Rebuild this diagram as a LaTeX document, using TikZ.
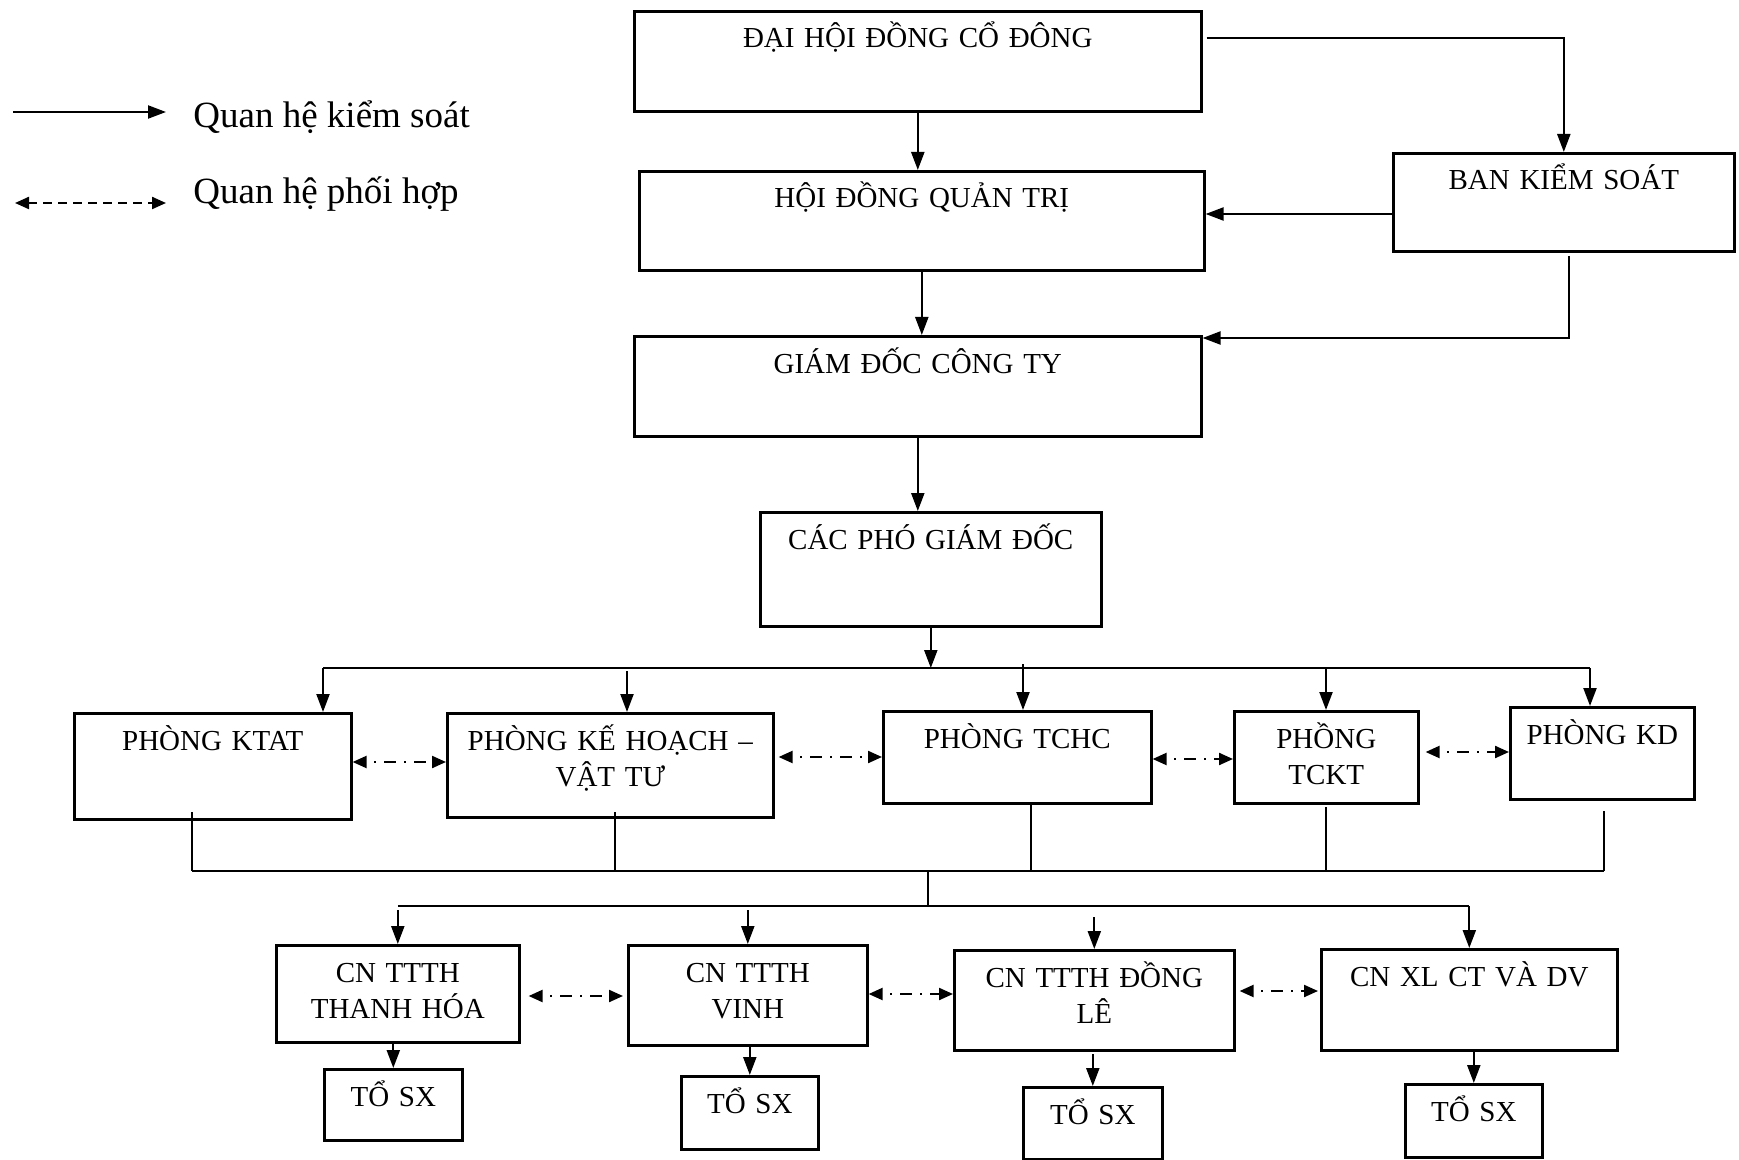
\documentclass[tikz,border=0pt]{standalone}
\usepackage{fontspec}
\setmainfont{Liberation Serif}
\usetikzlibrary{arrows.meta}
\newcommand{\boxfont}{\fontsize{14.5}{18}\selectfont}
\newcommand{\legfont}{\fontsize{18.5}{22}\selectfont}
\newcommand{\bx}[6]{\node[box, minimum width={(#4-#2)*0.5pt}, minimum height={(#5-#3)*0.5pt}, anchor=north west, label={[lbl]north:{#6}}] (#1) at (#2,#3) {};}
\begin{document}
\begin{tikzpicture}[x=0.5pt,y=-0.5pt,
  box/.style={draw, line width=1.3pt, inner sep=0pt},
  lbl/.style={anchor=base, inner sep=0pt, align=center, text width=250pt, font=\boxfont, yshift=-19pt},
  ctl/.style={line width=1.1pt, -{Triangle[length=9pt,width=6.5pt]}},
  cline/.style={line width=1.2pt},
  tline/.style={line width=0.8pt},
  coordarrow/.style={line width=1.1pt, {Triangle[length=7pt,width=6pt]}-{Triangle[length=7pt,width=6pt]}, dash pattern=on 1pt off 4pt on 6pt off 4pt, dash phase=-4pt},
  legdash/.style={line width=1.1pt, {Triangle[length=7pt,width=6pt]}-{Triangle[length=7pt,width=6pt]}, dash pattern=on 4.5pt off 3pt},
  leg/.style={inner sep=0pt, font=\legfont, anchor=base west}]
\useasboundingbox (0,0) rectangle (1739,1160);

% boxes
\bx{dh}{633}{10}{1200}{110}{ĐẠI HỘI ĐỒNG CỔ ĐÔNG}
\bx{hd}{638}{170}{1203}{269}{HỘI ĐỒNG QUẢN TRỊ}
\bx{bks}{1392}{152}{1733}{250}{BAN KIỂM SOÁT}
\bx{gd}{633}{335}{1200}{435}{GIÁM ĐỐC CÔNG TY}
\bx{pgd}{759}{511}{1100}{625}{CÁC PHÓ GIÁM ĐỐC}
\bx{ktat}{73}{712}{350}{818}{PHÒNG KTAT}
\bx{khvt}{446}{712}{772}{816}{PHÒNG KẾ HOẠCH –\\VẬT TƯ}
\bx{tchc}{882}{710}{1150}{802}{PHÒNG TCHC}
\bx{tckt}{1233}{710}{1417}{802}{PHỒNG\\TCKT}
\bx{kd}{1509}{706}{1693}{798}{PHÒNG KD}
\bx{cn1}{275}{944}{518}{1041}{CN TTTH\\THANH HÓA}
\bx{cn2}{627}{944}{866}{1044}{CN TTTH\\VINH}
\bx{cn3}{953}{949}{1233}{1049}{CN TTTH ĐỒNG\\LÊ}
\bx{cn4}{1320}{948}{1616}{1049}{CN XL CT VÀ DV}
\bx{to1}{323}{1068}{461}{1139}{TỔ SX}
\bx{to2}{680}{1075}{817}{1148}{TỔ SX}
\bx{to3}{1022}{1086}{1161}{1158}{TỔ SX}
\bx{to4}{1404}{1083}{1541}{1156}{TỔ SX}

% legend
\coordinate (la) at (13,112);
\coordinate (lb) at (166,112);
\draw[ctl] (la) -- (lb);
\node[leg] (lg1) at (193,128) {Quan hệ kiểm soát};
\coordinate (lc) at (15,203);
\coordinate (ld) at (166,203);
\draw[legdash] (lc) -- (ld);
\node[leg] (lg2) at (193,204) {Quan hệ phối hợp};

% top part
\draw[ctl] (dh.south) -- (dh.south |- hd.north);
\coordinate (c1) at ([xshift=2pt,yshift=-14pt]dh.north east);
\draw[ctl] (c1) -| (bks.north);
\coordinate (c2) at ([yshift=-31pt]bks.north west);
\draw[ctl] (c2) -- (c2 -| hd.east);
\coordinate (c3) at (1569,256);
\coordinate (c4) at (1569,338);
\draw[ctl] (c3) -- (c4) -- (c4 -| gd.east);
\draw[ctl] (hd.south) -- (hd.south |- gd.north);
\draw[ctl] (gd.south) -- (gd.south |- pgd.north);

% bus to departments
\coordinate (bus) at (0,668);
\draw[ctl] (pgd.south) -- (pgd.south |- bus);
\coordinate (busL) at (323,668);
\coordinate (busR) at (1590,668);
\draw[cline] (busL) -- (busR);
\draw[ctl] (busL) -- (busL |- ktat.north);
\coordinate (a2) at (627,671);
\draw[ctl] (a2) -- (a2 |- khvt.north);
\coordinate (a3) at (1023,664);
\draw[ctl] (a3) -- (a3 |- tchc.north);
\coordinate (a4) at (1326,668);
\draw[ctl] (a4) -- (a4 |- tckt.north);
\draw[ctl] (busR) -- (busR |- kd.north);

% coordination between departments
\coordinate (y1) at (0,762);
\draw[coordarrow] (ktat.east |- y1) -- (khvt.west |- y1);
\coordinate (y2) at (0,757);
\draw[coordarrow] ([xshift=2pt]khvt.east |- y2) -- (tchc.west |- y2);
\coordinate (y3) at (0,759);
\draw[coordarrow] (tchc.east |- y3) -- (tckt.west |- y3);
\coordinate (y4) at (0,752);
\draw[coordarrow] ([xshift=3pt]tckt.east |- y4) -- (kd.west |- y4);

% lower bus
\coordinate (lbus) at (0,871);
\coordinate (v1) at (192,812);
\coordinate (v2) at (615,812);
\coordinate (v3) at (1031,802);
\coordinate (v4) at (1326,807);
\coordinate (v5) at (1604,811);
\draw[tline] (v1) -- (v1 |- lbus);
\draw[tline] (v2) -- (v2 |- lbus);
\draw[tline] (v3) -- (v3 |- lbus);
\draw[tline] (v4) -- (v4 |- lbus);
\draw[tline] (v5) -- (v5 |- lbus);
\draw[cline] (v1 |- lbus) -- (v5 |- lbus);
\coordinate (m1) at (928,871);
\coordinate (m2) at (928,906);
\draw[tline] (m1) -- (m2);
\draw[cline] (cn1.north |- m2) -- (cn4.north |- m2);
\coordinate (m3) at (0,910);
\coordinate (m4) at (0,917);
\draw[ctl] (cn1.north |- m3) -- (cn1.north);
\draw[ctl] (cn2.north |- m3) -- (cn2.north);
\draw[ctl] (cn3.north |- m4) -- (cn3.north);
\draw[ctl] (cn4.north |- m2) -- (cn4.north);

% coordination between branches
\coordinate (z1) at (0,996);
\draw[coordarrow] ([xshift=4pt]cn1.east |- z1) -- ([xshift=-2pt]cn2.west |- z1);
\coordinate (z2) at (0,994);
\draw[coordarrow] (cn2.east |- z2) -- (cn3.west |- z2);
\coordinate (z3) at (0,991);
\draw[coordarrow] ([xshift=2pt]cn3.east |- z3) -- ([xshift=-1pt]cn4.west |- z3);

% branches to teams
\draw[ctl] (to1.north |- cn1.south) -- (to1.north);
\draw[ctl] (to2.north |- cn2.south) -- (to2.north);
\coordinate (n3) at (0,1054);
\draw[ctl] (to3.north |- n3) -- (to3.north);
\draw[ctl] (to4.north |- cn4.south) -- (to4.north);
\end{tikzpicture}
\end{document}
